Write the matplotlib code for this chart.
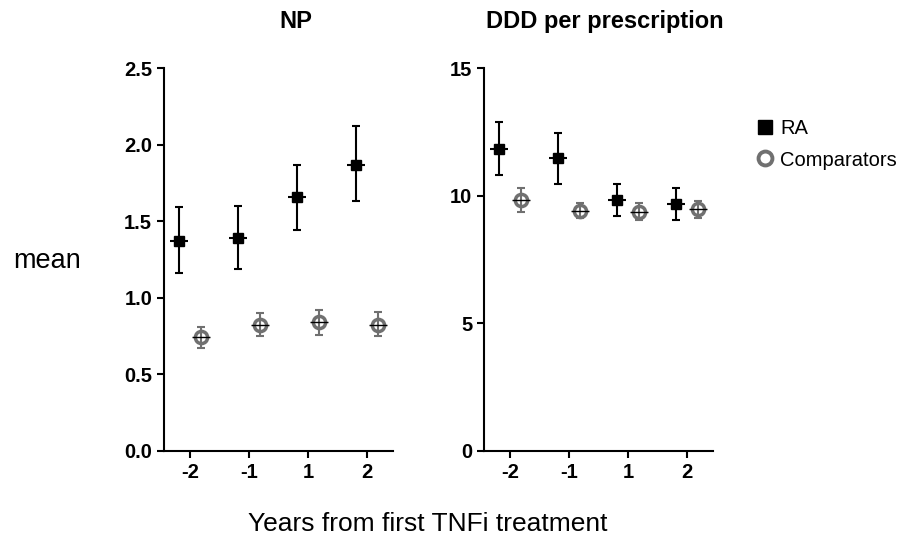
import matplotlib
matplotlib.use('agg')
import matplotlib.pyplot as plt
import numpy as np

plt.rcParams['font.family'] = ['Liberation Sans', 'DejaVu Sans']

years = ['-2', '-1', '1', '2']

# NP panel
np_ra = [1.37, 1.39, 1.66, 1.87]
np_ra_lo = [1.16, 1.19, 1.44, 1.63]
np_ra_hi = [1.59, 1.60, 1.87, 2.12]
np_comp = [0.745, 0.82, 0.84, 0.825]
np_comp_lo = [0.675, 0.75, 0.755, 0.75]
np_comp_hi = [0.81, 0.90, 0.92, 0.91]

# DDD per prescription panel
ddd_ra = [11.84, 11.46, 9.82, 9.67]
ddd_ra_lo = [10.81, 10.46, 9.19, 9.06]
ddd_ra_hi = [12.88, 12.47, 10.44, 10.30]
ddd_comp = [9.82, 9.41, 9.36, 9.48]
ddd_comp_lo = [9.36, 9.11, 9.03, 9.14]
ddd_comp_hi = [10.29, 9.73, 9.70, 9.80]

GRAY = '#707070'
OFF = 0.19


def draw_series(ax, x, y, lo, hi, style):
    y = np.array(y)
    yerr = [y - np.array(lo), np.array(hi) - y]
    if style == 'ra':
        ax.plot(x, y, 's', color='black', markersize=7.8, zorder=2, linestyle='none')
        ax.errorbar(x, y, yerr=yerr, fmt='none', ecolor='black', elinewidth=1.5,
                    capsize=3, capthick=1.5, zorder=3)
        ax.plot(x, y, '_', color='black', markersize=13, mew=1.5, zorder=3)
    else:
        ax.plot(x, y, 'o', mfc='white', mec=GRAY, mew=2.5, markersize=8.8,
                zorder=2, linestyle='none')
        ax.errorbar(x, y, yerr=yerr, fmt='none', ecolor=GRAY, elinewidth=1.5,
                    capsize=3, capthick=1.5, zorder=3)
        ax.plot(x, y, '_', color='black', markersize=13, mew=1.0, zorder=3)


fig = plt.figure(figsize=(9.07, 5.39), dpi=100)
ax1 = fig.add_axes([0.1808, 0.1633, 0.2525, 0.7105])
ax2 = fig.add_axes([0.5336, 0.1633, 0.2525, 0.7105])

x = np.arange(len(years))

draw_series(ax1, x - OFF, np_ra, np_ra_lo, np_ra_hi, 'ra')
draw_series(ax1, x + OFF, np_comp, np_comp_lo, np_comp_hi, 'comp')
draw_series(ax2, x - OFF, ddd_ra, ddd_ra_lo, ddd_ra_hi, 'ra')
draw_series(ax2, x + OFF, ddd_comp, ddd_comp_lo, ddd_comp_hi, 'comp')

ax1.set_ylim(0, 2.5)
ax1.set_yticks([0, 0.5, 1.0, 1.5, 2.0, 2.5])
ax1.set_yticklabels(['0.0', '0.5', '1.0', '1.5', '2.0', '2.5'])
ax2.set_ylim(0, 15)
ax2.set_yticks([0, 5, 10, 15])

for ax, title, tx in [(ax1, 'NP', 0.576), (ax2, 'DDD per prescription', 0.528)]:
    ax.set_xlim(-0.44, 3.44)
    ax.set_xticks(x)
    ax.set_xticklabels(years)
    for side in ['top', 'right']:
        ax.spines[side].set_visible(False)
    for side in ['left', 'bottom']:
        ax.spines[side].set_linewidth(1.5)
    ax.tick_params(direction='out', length=5, width=1.5, labelsize=14.5)
    for lab in ax.get_xticklabels() + ax.get_yticklabels():
        lab.set_fontweight('bold')
    ax.set_title(title, fontsize=17, fontweight='bold', pad=29, x=tx)

fig.text(0.052, 0.515, 'mean', fontsize=19.5, ha='center', va='center')
fig.text(0.472, 0.028, 'Years from first TNFi treatment', fontsize=19, ha='center', va='center')

h1 = plt.Line2D([], [], marker='s', color='black', linestyle='none', markersize=9.4)
h2 = plt.Line2D([], [], marker='o', mfc='white', mec=GRAY, mew=2.8, linestyle='none', markersize=10)
fig.legend([h1, h2], ['RA', 'Comparators'], loc='upper left', bbox_to_anchor=(0.81, 0.812),
           frameon=False, fontsize=14.5, handletextpad=0.15, labelspacing=0.6, handlelength=1.2)

fig.savefig('out.png', dpi=100)
